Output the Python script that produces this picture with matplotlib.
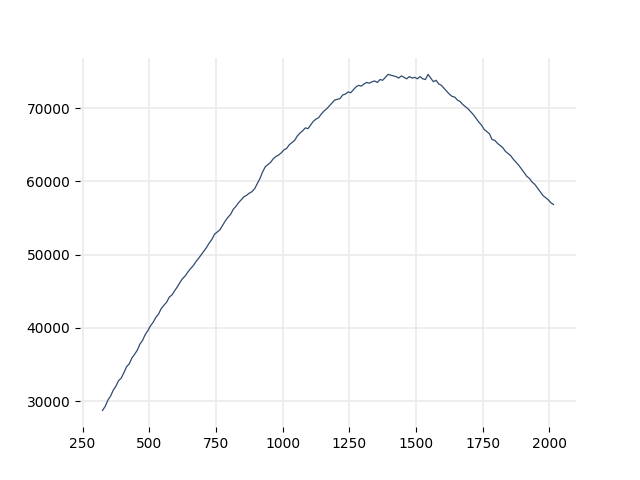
import numpy as np
import matplotlib
matplotlib.use('Agg')
import matplotlib.pyplot as plt

# values, one every 10 units starting at x = 325
x_start = 325
x_step = 10
y = [
    28750, 29300, 30150, 30700, 31500, 32050, 32800, 33150, 33900, 34700,
    35100, 35900, 36400, 36950, 37800, 38300, 39100, 39650, 40300, 40800,
    41450, 41900, 42650, 43100, 43500, 44200, 44500, 45050, 45600, 46200,
    46750, 47100, 47650, 48100, 48500, 49050, 49500, 50000, 50500, 51000,
    51600, 52100, 52800, 53100, 53400, 54000, 54600, 55100, 55500, 56200,
    56600, 57100, 57500, 57900, 58100, 58400, 58600, 59000, 59700, 60400,
    61300, 62000, 62300, 62600, 63100, 63400, 63600, 63900, 64300, 64500,
    65000, 65300, 65600, 66200, 66600, 66900, 67300, 67200, 67700, 68200,
    68500, 68700, 69200, 69600, 69900, 70300, 70700, 71100, 71200, 71300,
    71800, 71900, 72200, 72100, 72500, 72900, 73100, 73000, 73300, 73500,
    73400, 73600, 73700, 73500, 73900, 73800, 74200, 74600, 74500, 74400,
    74300, 74100, 74400, 74200, 74000, 74300, 74100, 74200, 74000, 74300,
    74000, 73900, 74600, 74100, 73600, 73800, 73300, 73100, 72700, 72300,
    71900, 71600, 71500, 71100, 70900, 70500, 70200, 69900, 69500, 69100,
    68600, 68100, 67700, 67100, 66800, 66500, 65700, 65600, 65200, 64900,
    64600, 64100, 63800, 63500, 63000, 62600, 62200, 61700, 61200, 60700,
    60400, 59900, 59600, 59100, 58600, 58100, 57800, 57500, 57100, 56850,
]
x = x_start + x_step * np.arange(len(y))

fig, ax = plt.subplots(figsize=(6.4, 4.8), dpi=100)
ax.plot(x, y, color='#2f4b6e', linewidth=0.9)

ax.grid(True, color='#ebebeb', linewidth=1.2)
ax.set_axisbelow(True)
for side in ['top', 'right', 'bottom', 'left']:
    ax.spines[side].set_visible(False)

plt.savefig('out.png')
